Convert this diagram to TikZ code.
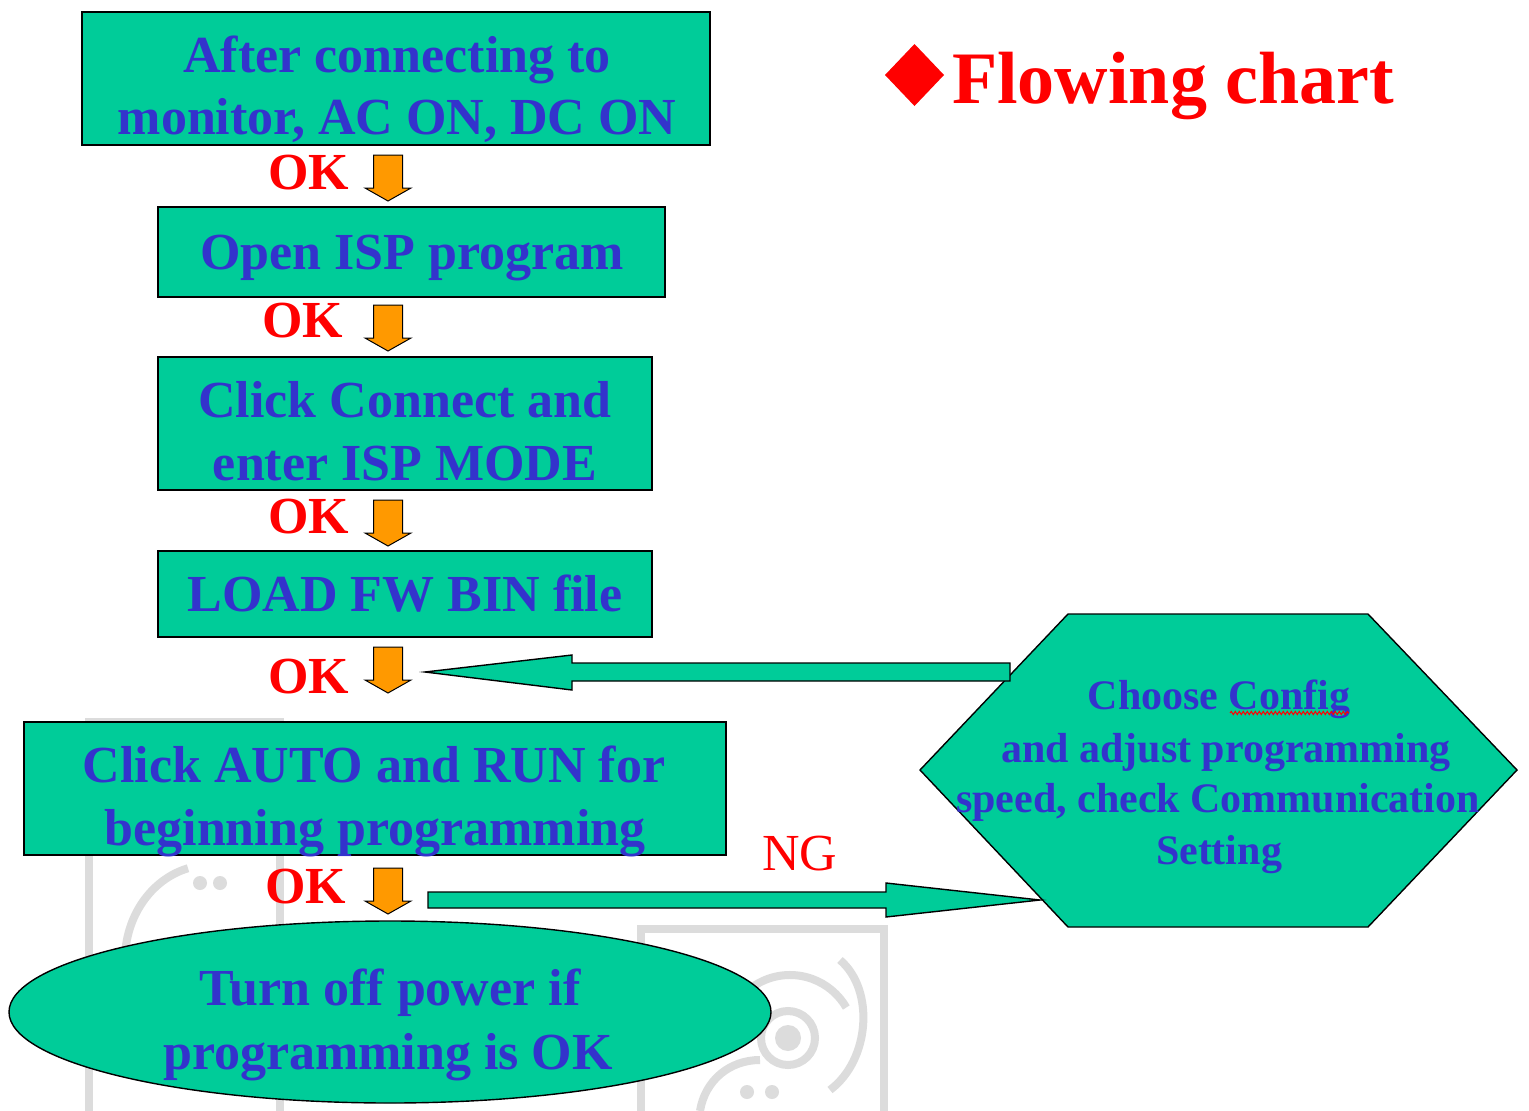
\documentclass[tikz,border=0pt]{standalone}
\usepackage{fontspec}
\setmainfont{Liberation Serif}
\usetikzlibrary{shapes.geometric,calc,decorations.pathmorphing}
\definecolor{boxgreen}{HTML}{00CC99}
\definecolor{txtblue}{HTML}{3333CC}
\definecolor{okred}{HTML}{FF0000}
\definecolor{arrorange}{HTML}{FF9900}
\definecolor{wmgray}{HTML}{DCDCDC}
\begin{document}
\begin{tikzpicture}[x=1pt,y=-1pt,
  stepbox/.style={draw=black, line width=1.6pt, fill=boxgreen, inner sep=0pt},
  btxt/.style={text=txtblue, font=\fontsize{52}{62}\selectfont\bfseries, anchor=base, inner sep=0pt},
  htxt/.style={text=txtblue, font=\fontsize{42}{52}\selectfont\bfseries, anchor=base, inner sep=0pt},
  oklbl/.style={text=okred, font=\fontsize{52}{60}\selectfont\bfseries, anchor=base west, inner sep=0pt},
  nglbl/.style={text=okred, font=\fontsize{52}{60}\selectfont, anchor=base west, inner sep=0pt},
  blockarr/.style={draw=black, line width=1.4pt, fill=boxgreen, line join=miter},
  wm/.style={draw=wmgray, line width=8pt},
  okarrow/.pic={\draw[line width=1pt, fill=arrorange, line join=miter]
     (-14.5,0) -- (14.5,0) -- (14.5,33) -- (23,33) -- (0,46) -- (-23,33) -- (-14.5,33) -- cycle;}
]
\useasboundingbox (0,0) rectangle (1529,1111);
\fill[white] (0,0) rectangle (1529,1111);

% watermarks
\draw[wm] (89,1111) -- (89,722) -- (280,722) -- (280,1111);
\draw[wm] (125,960) arc[start angle=180, end angle=255, x radius=85, y radius=95];
\fill[wmgray] (200,883) circle (7) (220,883) circle (7);
\draw[wm] (641,1111) -- (641,929) -- (884,929) -- (884,1111);
\draw[wm] (788,1038) circle (27);
\fill[wmgray] (788,1038) circle (13);
\draw[wm] ($(790,1040)+(200:65)$) arc[start angle=200, end angle=330, radius=65];
\draw[wm] (840,960) .. controls (875,990) and (870,1060) .. (830,1090);
\fill[wmgray] (747,1092) circle (7) (772,1092) circle (7);
\draw[wm] (700,1111) .. controls (705,1080) and (730,1060) .. (760,1060);

% boxes
\node[stepbox, minimum width=628, minimum height=133] (b1) at (396,78.5) {};
\node[stepbox, minimum width=507, minimum height=90] (b2) at (411.5,252) {};
\node[stepbox, minimum width=494, minimum height=133] (b3) at (405,423.5) {};
\node[stepbox, minimum width=494, minimum height=86] (b4) at (405,594) {};
\node[stepbox, minimum width=702, minimum height=133] (b5) at (375,788.5) {};
\node[ellipse, draw=black, line width=1.4pt, fill=boxgreen, minimum width=762, minimum height=182, inner sep=0pt] (end) at (390,1012) {};

% hexagon
\coordinate (hL) at (920,770);
\coordinate (hTL) at (1068,614);
\coordinate (hTR) at (1368,614);
\coordinate (hR) at (1517,770);
\coordinate (hBR) at (1368,927);
\coordinate (hBL) at (1068,927);
\draw[line width=1.4pt, fill=boxgreen] (hL) -- (hTL) -- (hTR) -- (hR) -- (hBR) -- (hBL) -- cycle;

% box texts
\node[btxt] (t1a) at (397,72) {After connecting to};
\node[btxt] (t1b) at (397,134) {monitor, AC ON, DC ON};
\node[btxt] (t2) at (412,269) {Open ISP program};
\node[btxt] (t3a) at (405,417) {Click Connect and};
\node[btxt] (t3b) at (405,480) {enter ISP MODE};
\node[btxt] (t4) at (405,611) {LOAD FW BIN file};
\node[btxt] (t5a) at (374,782) {Click AUTO and RUN for};
\node[btxt] (t5b) at (375,845) {beginning programming};
\node[btxt] (t6a) at (390,1005) {Turn off power if};
\node[btxt] (t6b) at (388,1069) {programming is OK};

% hexagon text
\node[htxt] (h1) at (1219,709) {Choose Config};
\node[htxt] (h2) at (1226,762) {and adjust programming};
\node[htxt] (h3) at (1218,812) {speed, check Communication};
\node[htxt] (h4) at (1219,864) {Setting};
\draw[okred, line width=1pt, decorate, decoration={snake, amplitude=1.6pt, segment length=4pt}] (1230,713) -- (1349,713);

% OK labels and orange arrows
\node[oklbl] (ok1) at (268,189) {OK};
\pic at (388,155) {okarrow};
\node[oklbl] (ok2) at (262,337) {OK};
\pic at (388,305) {okarrow};
\node[oklbl] (ok3) at (268,533) {OK};
\pic at (388,500) {okarrow};
\node[oklbl] (ok4) at (268,693) {OK};
\pic at (388,647) {okarrow};
\node[oklbl] (ok5) at (265,903) {OK};
\pic at (388,868) {okarrow};

% green block arrows
\coordinate (aS) at (1010,672);
\coordinate (aT) at (425,672);
\draw[blockarr] ($(aS)+(0,-9)$) -- ($(aS)+(0,9)$) -- (572,681) -- (572,690) -- (aT) -- (572,655) -- (572,663) -- cycle;
\coordinate (bS) at (428,900);
\coordinate (bT) at (1040,900);
\draw[blockarr] ($(bS)+(0,-8)$) -- (886,892) -- (886,883) -- (bT) -- (886,917) -- (886,908) -- ($(bS)+(0,8)$) -- cycle;
\node[nglbl] (ng) at (762,870) {NG};

% title
\fill[okred] (885,75) -- (914.5,44) -- (944,75) -- (914.5,106) -- cycle;
\node[text=okred, font=\fontsize{74}{80}\selectfont\bfseries, anchor=base west, inner sep=0pt] (title) at (952,103) {Flowing chart};
\end{tikzpicture}
\end{document}
